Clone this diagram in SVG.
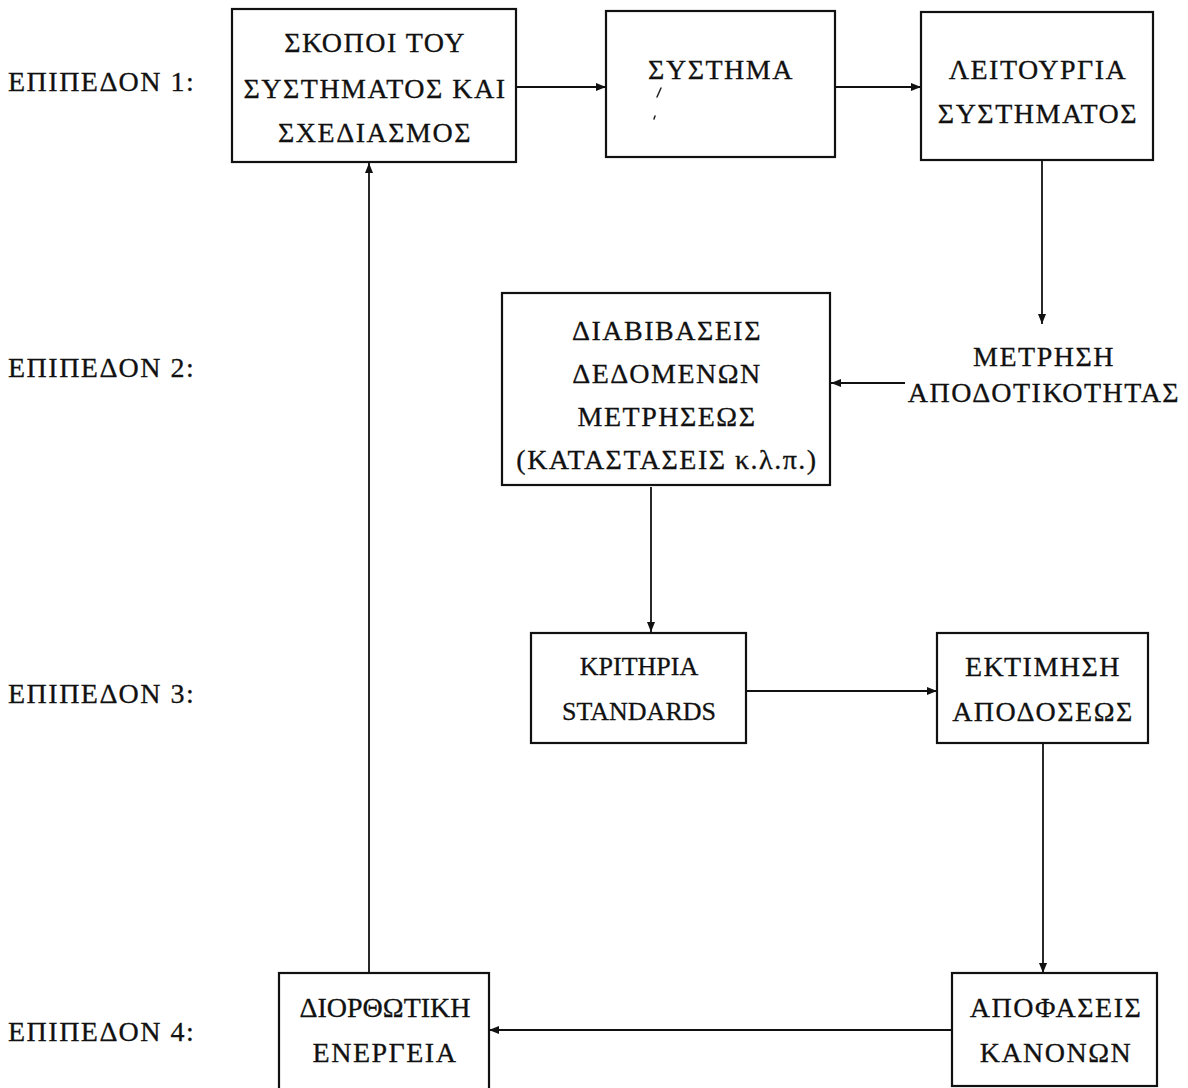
<svg xmlns="http://www.w3.org/2000/svg" width="1188" height="1088" viewBox="0 0 1188 1088">
  <style>
    .box { fill: #ffffff; stroke: #111111; stroke-width: 2.2; }
    .lbl { font-family: "Liberation Serif", "Times New Roman", serif; font-size: 28px; letter-spacing: 1.5px; fill: #111111; stroke: #111111; stroke-width: 0.3; text-anchor: middle; }
    .tight { letter-spacing: 0px; }
    .small { font-size: 26px; }
    .lvl { font-family: "Liberation Serif", "Times New Roman", serif; font-size: 28px; letter-spacing: 1.5px; fill: #111111; stroke: #111111; stroke-width: 0.3; }
    .link { fill: none; stroke: #111111; stroke-width: 1.8; }
    .speck { fill: none; stroke: #222222; stroke-width: 1.5; stroke-linecap: round; }
  </style>
  <defs>
    <marker id="arrow" markerUnits="userSpaceOnUse" markerWidth="10" markerHeight="8" refX="10" refY="4" orient="auto">
      <path d="M0,0 L10,4 L0,8 Z" fill="#111111"/>
    </marker>
  </defs>
  <rect width="1188" height="1088" fill="#ffffff"/>

  <!-- level captions -->
  <g id="levels">
    <text class="lvl" x="8" y="91">ΕΠΙΠΕΔΟΝ  1:</text>
    <text class="lvl" x="8" y="377">ΕΠΙΠΕΔΟΝ  2:</text>
    <text class="lvl" x="8" y="703">ΕΠΙΠΕΔΟΝ  3:</text>
    <text class="lvl" x="8" y="1041">ΕΠΙΠΕΔΟΝ  4:</text>
  </g>

  <!-- connectors -->
  <g id="connectors">
    <line class="link" x1="516" y1="87" x2="606" y2="87" marker-end="url(#arrow)"/>
    <line class="link" x1="835" y1="87" x2="921" y2="87" marker-end="url(#arrow)"/>
    <line class="link" x1="1042" y1="160" x2="1042" y2="324" marker-end="url(#arrow)"/>
    <line class="link" x1="905" y1="383" x2="831" y2="383" marker-end="url(#arrow)"/>
    <line class="link" x1="651" y1="487" x2="651" y2="632" marker-end="url(#arrow)"/>
    <line class="link" x1="746" y1="691" x2="937" y2="691" marker-end="url(#arrow)"/>
    <line class="link" x1="1043" y1="743" x2="1043" y2="973" marker-end="url(#arrow)"/>
    <line class="link" x1="951" y1="1030" x2="489" y2="1030" marker-end="url(#arrow)"/>
    <line class="link" x1="369" y1="973" x2="369" y2="163" marker-end="url(#arrow)"/>
  </g>

  <g id="goals">
    <rect class="box" x="232" y="9" width="284" height="153"/>
    <text class="lbl" x="375" y="52">ΣΚΟΠΟΙ ΤΟΥ</text>
    <text class="lbl" x="375" y="98">ΣΥΣΤΗΜΑΤΟΣ ΚΑΙ</text>
    <text class="lbl" x="375" y="142">ΣΧΕΔΙΑΣΜΟΣ</text>
  </g>

  <g id="system">
    <rect class="box" x="606" y="11" width="229" height="146"/>
    <text class="lbl" x="721" y="79">ΣΥΣΤΗΜΑ</text>
    <path class="speck" d="M661,88 L657,97"/>
    <path class="speck" d="M655,116 L654,119"/>
  </g>

  <g id="operation">
    <rect class="box" x="921" y="12" width="232" height="148"/>
    <text class="lbl" x="1038" y="79">ΛΕΙΤΟΥΡΓΙΑ</text>
    <text class="lbl" x="1038" y="123">ΣΥΣΤΗΜΑΤΟΣ</text>
  </g>

  <g id="measurement">
    <text class="lbl" x="1044" y="366">ΜΕΤΡΗΣΗ</text>
    <text class="lbl" x="1044" y="402">ΑΠΟΔΟΤΙΚΟΤΗΤΑΣ</text>
  </g>

  <g id="data-transfer">
    <rect class="box" x="502" y="293" width="328" height="192"/>
    <text class="lbl" x="667" y="340">ΔΙΑΒΙΒΑΣΕΙΣ</text>
    <text class="lbl" x="667" y="383">ΔΕΔΟΜΕΝΩΝ</text>
    <text class="lbl" x="667" y="426">ΜΕΤΡΗΣΕΩΣ</text>
    <text class="lbl" x="667" y="469">(ΚΑΤΑΣΤΑΣΕΙΣ κ.λ.π.)</text>
  </g>

  <g id="criteria">
    <rect class="box" x="531" y="633" width="215" height="110"/>
    <text class="lbl tight small" x="639" y="675">ΚΡΙΤΗΡΙΑ</text>
    <text class="lbl tight small" x="639" y="720">STANDARDS</text>
  </g>

  <g id="evaluation">
    <rect class="box" x="937" y="633" width="211" height="110"/>
    <text class="lbl" x="1043" y="676">ΕΚΤΙΜΗΣΗ</text>
    <text class="lbl" x="1043" y="721">ΑΠΟΔΟΣΕΩΣ</text>
  </g>

  <g id="decisions">
    <rect class="box" x="952" y="973" width="205" height="113"/>
    <text class="lbl" x="1056" y="1017">ΑΠΟΦΑΣΕΙΣ</text>
    <text class="lbl" x="1056" y="1062">ΚΑΝΟΝΩΝ</text>
  </g>

  <g id="corrective-action">
    <rect class="box" x="279" y="973" width="210" height="120"/>
    <text class="lbl tight" x="385" y="1017">ΔΙΟΡΘΩΤΙΚΗ</text>
    <text class="lbl" x="385" y="1062">ΕΝΕΡΓΕΙΑ</text>
  </g>
</svg>
